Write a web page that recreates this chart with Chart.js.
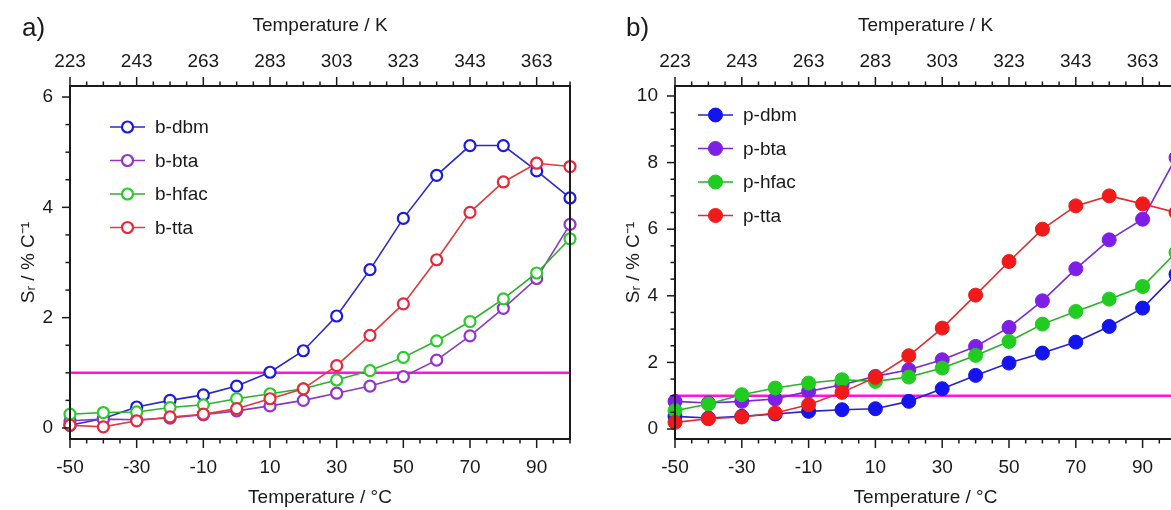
<!doctype html>
<html>

<head>
	<meta charset="utf-8">
	<title>Sr vs temperature</title>
	<script src="https://cdn.jsdelivr.net/npm/chart.js@4.4.1/dist/chart.umd.min.js"></script>
	<style>
		html, body { margin: 0; padding: 0; background: #fff; overflow: hidden; }
		body { width: 1171px; height: 510px; position: relative; font-family: "Liberation Sans", Arial, sans-serif; }
		canvas { position: absolute; top: 0; }
		#chart-a { left: 0; }
		#chart-b { left: 585px; }
		.tag { position: absolute; top: 14px; font-size: 26px; line-height: 26px; color: #1a1a1a; }
	</style>
</head>

<body>
	<canvas id="chart-a" width="590" height="510"></canvas>
	<canvas id="chart-b" width="600" height="510"></canvas>
	<div class="tag" style="left:22px">a)</div>
	<div class="tag" style="left:626px">b)</div>
	<script>
		// temperatures in °C, one point every 10 degrees
		const tempC = [-50, -40, -30, -20, -10, 0, 10, 20, 30, 40, 50, 60, 70, 80, 90, 100];

		// panel a (open symbols)
		const bDbm = [0.05, 0.17, 0.38, 0.50, 0.60, 0.76, 1.01, 1.40, 2.03, 2.87, 3.80, 4.58, 5.12, 5.12, 4.66, 4.17];
		const bBta = [0.13, 0.16, 0.15, 0.18, 0.24, 0.31, 0.40, 0.50, 0.63, 0.76, 0.93, 1.23, 1.67, 2.17, 2.71, 3.69];
		const bHfac = [0.25, 0.28, 0.29, 0.37, 0.42, 0.53, 0.62, 0.71, 0.87, 1.04, 1.28, 1.58, 1.93, 2.34, 2.81, 3.43];
		const bTta = [0.05, 0.02, 0.13, 0.20, 0.25, 0.35, 0.53, 0.71, 1.13, 1.68, 2.25, 3.05, 3.91, 4.46, 4.80, 4.74];

		// panel b (filled symbols)
		const pDbm = [0.38, 0.33, 0.38, 0.45, 0.53, 0.58, 0.61, 0.83, 1.21, 1.61, 1.98, 2.28, 2.61, 3.08, 3.63, 4.65];
		const pBta = [0.83, 0.78, 0.83, 0.90, 1.13, 1.33, 1.58, 1.78, 2.08, 2.48, 3.05, 3.85, 4.81, 5.68, 6.30, 8.15];
		const pHfac = [0.55, 0.75, 1.03, 1.23, 1.38, 1.48, 1.43, 1.56, 1.83, 2.21, 2.63, 3.15, 3.53, 3.90, 4.28, 5.30];
		const pTta = [0.20, 0.31, 0.36, 0.48, 0.73, 1.10, 1.55, 2.20, 3.03, 4.02, 5.03, 6.00, 6.70, 7.00, 6.76, 6.50];

		// Sr = 1 %/°C reference line
		const threshold = 1;

		// tick labels
		const xTicksC = [-50, -30, -10, 10, 30, 50, 70, 90];
		const xTicksK = [223, 243, 263, 283, 303, 323, 343, 363];
		const yTicksA = [0, 2, 4, 6];
		const yTicksB = [0, 2, 4, 6, 8, 10];

		const ink = '#1a1a1a';
		Chart.defaults.font.family = '"Liberation Sans", Arial, sans-serif';
		Chart.defaults.font.size = 19;
		Chart.defaults.color = ink;

		const pts = (vals) => tempC.map((t, i) => ({ x: t, y: vals[i] }));

		// frame with major / minor tick marks
		const frameTicks = {
			id: 'frameTicks',
			afterDraw(chart, args, opts) {
				const { ctx, chartArea: a, scales } = chart;
				const isMajor = (list, v) => list.some((m) => Math.abs(m - v) < 1e-6);
				ctx.save();
				ctx.strokeStyle = ink;
				ctx.lineWidth = 1.5;
				const seg = (x1, y1, x2, y2) => {
					ctx.beginPath();
					ctx.moveTo(x1, y1);
					ctx.lineTo(x2, y2);
					ctx.stroke();
				};
				for (let v = scales.x.min; v <= scales.x.max + 1e-6; v += 5) {
					const px = scales.x.getPixelForValue(v);
					seg(px, a.bottom, px, a.bottom + (isMajor(xTicksC, v) ? 9 : 4.5));
				}
				for (let v = scales.xK.min; v <= scales.xK.max + 1e-6; v += 5) {
					const px = scales.xK.getPixelForValue(v);
					seg(px, a.top, px, a.top - (isMajor(xTicksK, v) ? 9 : 4.5));
				}
				for (let v = 0; v <= scales.y.max + 1e-6; v += 0.5) {
					const py = scales.y.getPixelForValue(v);
					seg(a.left, py, a.left - (isMajor(opts.yMajor, v) ? 8 : 4.5), py);
				}
				ctx.lineWidth = 2;
				ctx.strokeRect(a.left, a.top, a.right - a.left, a.bottom - a.top);
				ctx.restore();
			}
		};

		// legend drawn inside the plot: short line with the symbol in its middle
		const insideLegend = {
			id: 'insideLegend',
			afterDraw(chart, args, opts) {
				const ctx = chart.ctx;
				ctx.save();
				ctx.font = '19px "Liberation Sans", Arial, sans-serif';
				ctx.textBaseline = 'middle';
				ctx.fillStyle = ink;
				let row = 0;
				chart.data.datasets.forEach((ds) => {
					if (!ds.label) return;
					const y = opts.y + row * opts.gap;
					ctx.strokeStyle = ds.borderColor;
					ctx.lineWidth = ds.borderWidth;
					ctx.beginPath();
					ctx.moveTo(opts.x, y);
					ctx.lineTo(opts.x + 35, y);
					ctx.stroke();
					ctx.beginPath();
					ctx.arc(opts.x + 17.5, y, ds.pointRadius, 0, Math.PI * 2);
					ctx.fillStyle = ds.pointBackgroundColor;
					ctx.fill();
					ctx.strokeStyle = ds.pointBorderColor;
					ctx.lineWidth = ds.pointBorderWidth;
					ctx.stroke();
					ctx.fillStyle = ink;
					ctx.fillText(ds.label, opts.x + 45, y + 1);
					row++;
				});
				ctx.restore();
			}
		};

		function series(label, vals, color, lineColor, open, order) {
			return {
				label: label,
				data: pts(vals),
				borderColor: lineColor,
				borderWidth: 1.6,
				pointRadius: open ? 5.5 : 7,
				pointBorderWidth: open ? 2.2 : 1,
				pointBorderColor: color,
				pointBackgroundColor: open ? '#ffffff' : color,
				pointHoverRadius: open ? 5.5 : 7,
				order: order,
				clip: false
			};
		}

		function refLine() {
			return {
				label: '',
				data: [{ x: -50, y: threshold }, { x: 100, y: threshold }],
				borderColor: '#ff14dc',
				borderWidth: 2.5,
				pointRadius: 0,
				order: 10
			};
		}

		function makeScales(yMin, yMax, yMajor, yWidth, titlePad) {
			return {
				x: {
					type: 'linear', position: 'bottom', min: -50, max: 100,
					afterBuildTicks: (s) => { s.ticks = xTicksC.map((v) => ({ value: v })); },
					afterFit: (s) => { s.height = 71; },
					grid: { display: false, drawTicks: false },
					border: { display: false },
					ticks: { padding: 17, autoSkip: false, maxRotation: 0 },
					title: { display: true, text: 'Temperature / °C', padding: { top: 0, bottom: 1 } }
				},
				xK: {
					type: 'linear', position: 'top', min: 223, max: 373,
					afterBuildTicks: (s) => { s.ticks = xTicksK.map((v) => ({ value: v })); },
					afterFit: (s) => { s.height = 86; },
					grid: { display: false, drawTicks: false },
					border: { display: false },
					ticks: { padding: 13, autoSkip: false, maxRotation: 0 },
					title: { display: true, text: 'Temperature / K', padding: { top: 14, bottom: 0 } }
				},
				y: {
					type: 'linear', position: 'left', min: yMin, max: yMax,
					afterBuildTicks: (s) => { s.ticks = yMajor.map((v) => ({ value: v })); },
					afterFit: (s) => { s.width = yWidth; },
					grid: { display: false, drawTicks: false },
					border: { display: false },
					ticks: { padding: 17, autoSkip: false },
					title: { display: true, text: 'Sᵣ / % C⁻¹', padding: { top: titlePad, bottom: 0 } }
				}
			};
		}

		function makeChart(id, datasets, scales, padRight, legendPos, yMajor) {
			return new Chart(document.getElementById(id), {
				type: 'line',
				data: { datasets: datasets },
				options: {
					responsive: false,
					animation: false,
					devicePixelRatio: 1,
					layout: { padding: { left: 0, right: padRight, top: 0, bottom: 0 } },
					scales: scales,
					plugins: {
						legend: { display: false },
						tooltip: { enabled: false },
						insideLegend: legendPos,
						frameTicks: { yMajor: yMajor }
					}
				},
				plugins: [frameTicks, insideLegend]
			});
		}

		makeChart('chart-a', [
			series('b-dbm', bDbm, '#1a1ae6', '#2a2ac8', true, 4),
			series('b-bta', bBta, '#9430d4', '#8a3ac0', true, 3),
			series('b-hfac', bHfac, '#28cc28', '#2ab02a', true, 2),
			series('b-tta', bTta, '#e8283a', '#e03a3a', true, 1),
			refLine()
		], makeScales(-0.2, 6.2, yTicksA, 70, 17), 20, { x: 110, y: 127, gap: 33.5 }, yTicksA);

		makeChart('chart-b', [
			series('p-dbm', pDbm, '#1414ee', '#2424c8', false, 4),
			series('p-bta', pBta, '#7e1ee6', '#7a2ad0', false, 3),
			series('p-hfac', pHfac, '#20cc20', '#28b028', false, 2),
			series('p-tta', pTta, '#f01a1a', '#e02c2c', false, 1),
			refLine()
		], makeScales(-0.3, 10.3, yTicksB, 90, 37), 9, { x: 113, y: 115, gap: 33.5 }, yTicksB);
	</script>
</body>

</html>
